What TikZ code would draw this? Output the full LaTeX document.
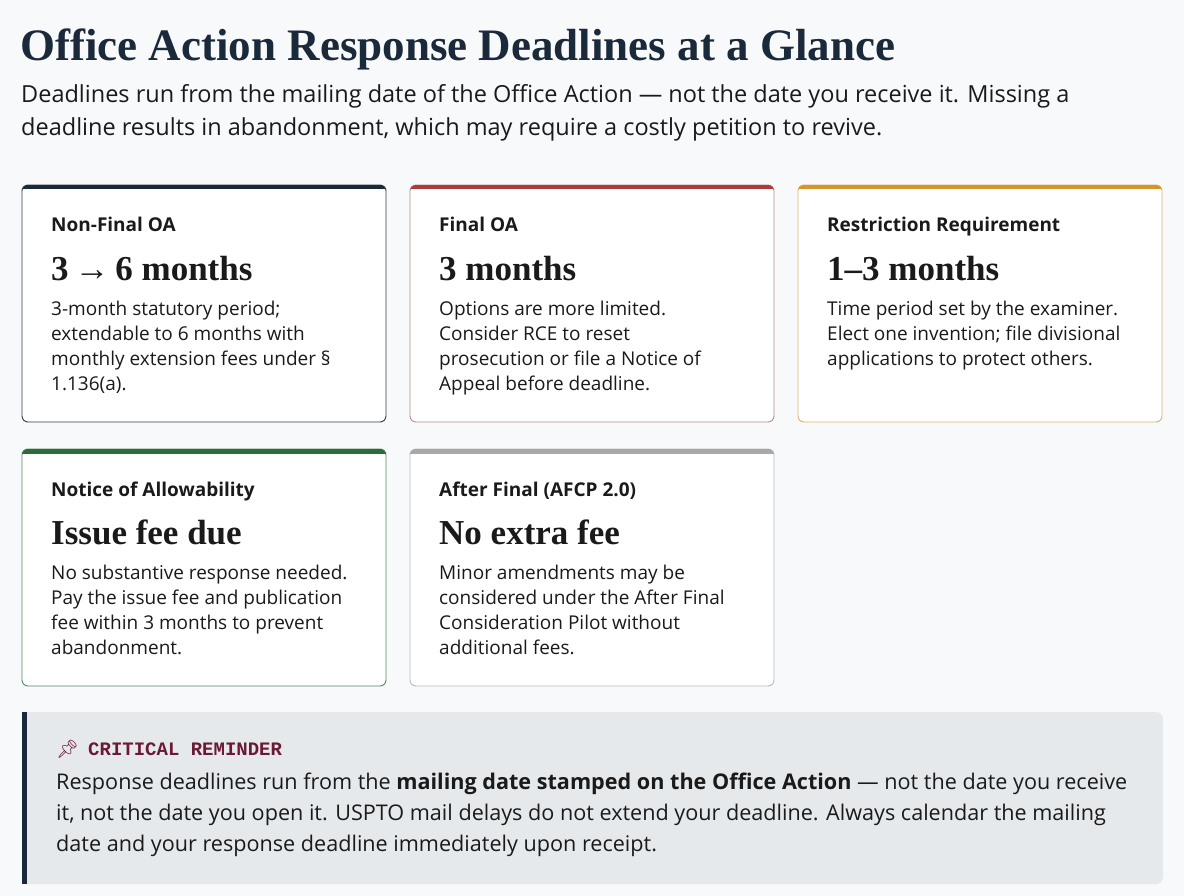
\documentclass[tikz,border=0pt]{standalone}
\usepackage{fontspec}
\setmainfont{Open Sans}
\newfontfamily\serifb{Liberation Serif}[Scale=1.0]
\newfontfamily\monob{Liberation Mono}
\newfontfamily\emo{Noto Emoji}
\definecolor{bg}{HTML}{F8F9FA}
\definecolor{ink}{HTML}{1A1A1A}
\definecolor{navy}{HTML}{1B2A3B}
\definecolor{cred}{HTML}{B03A3A}
\definecolor{corange}{HTML}{D4962A}
\definecolor{cgreen}{HTML}{2E6B3A}
\definecolor{cgray}{HTML}{A8A8A8}
\definecolor{remfill}{HTML}{E6E9EC}
\definecolor{wine}{HTML}{6B1A35}
\tikzset{
  card/.style={rounded corners=6pt, fill=white, line width=0.9pt},
  ctitle/.style={anchor=base west, inner sep=0pt, font=\fontsize{19}{22}\selectfont\bfseries, text=ink},
  cbig/.style={anchor=base west, inner sep=0pt, font=\fontsize{35}{38}\serifb\bfseries, text=ink},
  cbody/.style={anchor=north west, inner sep=0pt, align=left, font=\fontsize{19}{25}\selectfont, text=ink},
}
\begin{document}
\begin{tikzpicture}[x=1pt,y=-1pt]
\fill[bg] (0,0) rectangle (1184,896);
\useasboundingbox (0,0) rectangle (1184,896);
\node[anchor=base west, inner sep=0pt, font=\fontsize{45}{48}\serifb\bfseries, text=navy] (title) at (20,61) {Office Action Response Deadlines at a Glance};
\node[anchor=north west, inner sep=0pt, align=left, font=\fontsize{23.5}{33}\selectfont, text=ink] (sub) at (21,84) {Deadlines run from the mailing date of the Office Action — not the date you receive it. Missing a\\deadline results in abandonment, which may require a costly petition to revive.};
% cards
\newcommand\mkcard[9]{%
  \draw[card, draw=#4] (#1,#2) rectangle (#1+364,#2+237);
  \begin{scope}
  \clip[rounded corners=6pt] (#1,#2) rectangle (#1+364,#2+237);
  \fill[#3] (#1,#2) rectangle (#1+364,#2+4.5);
  \end{scope}
  \node[ctitle] (#5t) at (#1+29,#2+47) {#6};
  \node[cbig] (#5b) at (#1+29,#2+95) {#7};
  \node[cbody] (#5d) at (#1+29,#2+116) {#8};
}
\mkcard{22}{185}{navy}{navy!90}{c1}{Non-Final OA}{3\,→\,6 months}{3-month statutory period;\\extendable to 6 months with\\monthly extension fees under §\\1.136(a).}{}
\mkcard{410}{185}{cred}{cred!45!gray!70}{c2}{Final OA}{3 months}{Options are more limited.\\Consider RCE to reset\\prosecution or file a Notice of\\Appeal before deadline.}{}
\mkcard{798}{185}{corange}{corange!70}{c3}{Restriction Requirement}{1–3 months}{Time period set by the examiner.\\Elect one invention; file divisional\\applications to protect others.}{}
\mkcard{22}{449}{cgreen}{cgreen!80}{c4}{Notice of Allowability}{Issue fee due}{No substantive response needed.\\Pay the issue fee and publication\\fee within 3 months to prevent\\abandonment.}{}
\mkcard{410}{449}{cgray}{cgray!80}{c5}{After Final (AFCP 2.0)}{No extra fee}{Minor amendments may be\\considered under the After Final\\Consideration Pilot without\\additional fees.}{}
% reminder
\fill[remfill, rounded corners=7pt] (22,712) rectangle (1163,884);
\fill[remfill] (22,712) rectangle (40,884);
\fill[navy] (22,712) rectangle (27,884);
\node[anchor=base west, inner sep=0pt, font=\fontsize{18}{20}\emo, text=wine] (pin) at (56,755) {📌};
\node[anchor=base west, inner sep=0pt, font=\fontsize{19}{20}\monob\bfseries, text=wine] (rl) at (88,755) {CRITICAL REMINDER};
\node[anchor=north west, inner sep=0pt, align=left, font=\fontsize{21.6}{31}\selectfont, text=ink] (rb) at (56,773) {Response deadlines run from the \textbf{mailing date stamped on the Office Action} — not the date you receive\\it, not the date you open it. USPTO mail delays do not extend your deadline. Always calendar the mailing\\date and your response deadline immediately upon receipt.};
\end{tikzpicture}
\end{document}
